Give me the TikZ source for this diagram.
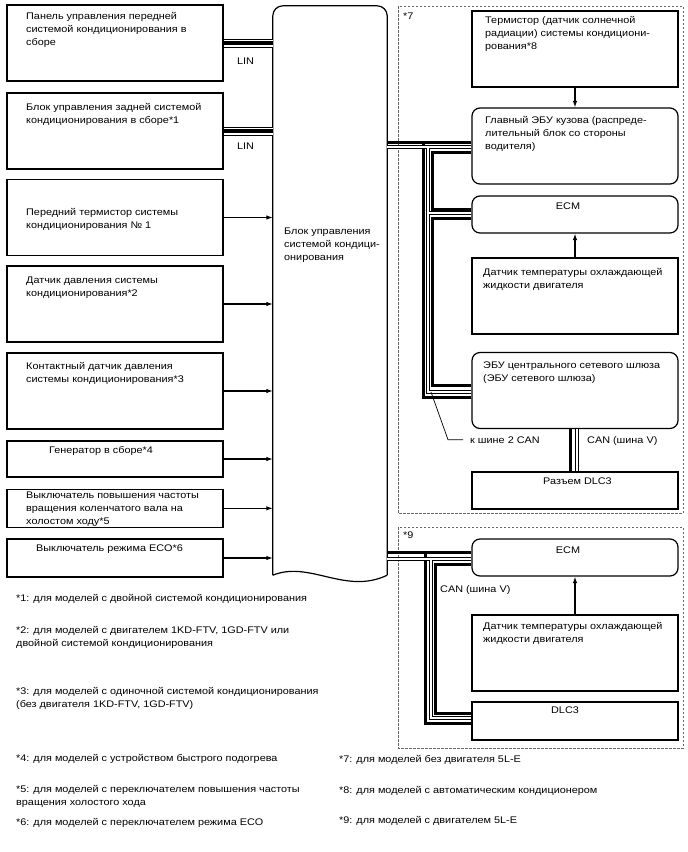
\documentclass[tikz,border=0pt]{standalone}
\usepackage{fontspec}
\setmainfont[FakeStretch=1.13]{Liberation Sans}
\usetikzlibrary{positioning,arrows.meta,calc}

\begin{document}
\begin{tikzpicture}[
    x=1pt,y=-1pt,font=\fontsize{9.6}{13.2}\selectfont,
    >={Latex[length=6.5pt,width=4.5pt]},
    lbox/.style={draw,line width=1.2pt,minimum width=216pt,inner sep=0pt},
    rbox/.style={draw,line width=1.2pt,minimum width=206pt,inner sep=0pt},
    ecu/.style={rbox,rounded corners=8pt},
    txt/.style={anchor=base west,align=left,inner sep=0pt},
    ctxt/.style={anchor=base,inner sep=0pt},
    sig/.style={->,line width=1.1pt},
    linbus/.style={draw=white,line width=7pt,
      preaction={draw=black,line width=9pt},
      postaction={draw=black,line width=3.2pt}},
    canhi/.style={draw=black,line width=3pt},
    canlo/.style={draw=black,line width=1.1pt,double=white,double distance=2.2pt},
    optgroup/.style={draw=black!60,line width=0.9pt,dash pattern=on 2.5pt off 1.5pt},
    lead/.style={draw=black,line width=0.7pt}
]
\fill[white] (0,0) rectangle (688,852);
\useasboundingbox (0,0) rectangle (688,852);

\node[lbox,minimum height=76pt] (acpanel) at (115,43) {};
\node[txt] (acpanel-t) at (26,45.4) {Панель управления передней\\системой кондиционирования в\\сборе};
\node[lbox,minimum height=76pt] (rearac) at (115,131) {};
\node[txt] (rearac-t) at (26,123.2) {Блок управления задней системой\\кондиционирования в сборе*1};
\node[lbox,minimum height=76pt] (frtherm) at (115,217.5) {};
\node[txt] (frtherm-t) at (26,228.2) {Передний термистор системы\\кондиционирования № 1};
\node[lbox,minimum height=76pt] (prsens) at (115,304) {};
\node[txt] (prsens-t) at (26,296.2) {Датчик давления системы\\кондиционирования*2};
\node[lbox,minimum height=76pt] (prswitch) at (115,391) {};
\node[txt] (prswitch-t) at (26,382.7) {Контактный датчик давления\\системы кондиционирования*3};
\node[lbox,minimum height=36pt] (altern) at (115,459) {};
\node[txt] (altern-t) at (49,453.5) {Генератор в сборе*4};
\node[lbox,minimum height=38pt] (idleup) at (115,508.3) {};
\node[txt] (idleup-t) at (26,524.9) {Выключатель повышения частоты\\вращения коленчатого вала на\\холостом ходу*5};
\node[lbox,minimum height=38pt] (ecosw) at (115,558) {};
\node[txt] (ecosw-t) at (36,551.5) {Выключатель режима ECO*6};

\node[minimum width=114pt,minimum height=569pt,inner sep=0pt] (acecu) at (330,290.5) {};
\draw[line width=1.2pt,rounded corners=10pt] (acecu.south west) -- (acecu.north west)
  -- (acecu.north east) -- (acecu.south east);
\draw[line width=1.2pt] (acecu.south west) .. controls +(37,-15) and +(-42,20) .. (acecu.south east);
\node[txt] (acecu-t) at (284,260.4) {Блок управления\\системой кондици-\\онирования};

\draw[optgroup] (398,6) rectangle (683,513);
\node[txt] (grp7) at (403,19) {*7};
\draw[optgroup] (398,527) rectangle (683,748);
\node[txt] (grp9) at (403,538) {*9};

\node[rbox,minimum height=76pt] (solar) at (575,49) {};
\node[txt] (solar-t) at (485,49.9) {Термистор (датчик солнечной\\радиации) системы кондициони-\\рования*8};
\node[ecu,minimum height=76pt] (bodyecu) at (575,146) {};
\node[txt] (bodyecu-t) at (485,149.4) {Главный ЭБУ кузова (распреде-\\лительный блок со стороны\\водителя)};
\node[ecu,minimum height=37pt] (ecma) at (575,214.5) {};
\node[ctxt] (ecma-t) at (568,209.5) {ECM};
\node[rbox,minimum height=76pt] (ecta) at (575,296) {};
\node[txt] (ecta-t) at (483,288.2) {Датчик температуры охлаждающей\\жидкости двигателя};
\node[ecu,minimum height=76pt] (gateway) at (575,390.5) {};
\node[txt] (gateway-t) at (483,381.7) {ЭБУ центрального сетевого шлюза\\(ЭБУ сетевого шлюза)};
\node[rbox,minimum height=37pt] (dlca) at (575,490.5) {};
\node[ctxt] (dlca-t) at (577.5,484) {Разъем DLC3};

\node[ecu,minimum height=37pt] (ecmb) at (575,557.5) {};
\node[ctxt] (ecmb-t) at (568,553.5) {ECM};
\node[rbox,minimum height=76pt] (ectb) at (575,653) {};
\node[txt] (ectb-t) at (483,642.7) {Датчик температуры охлаждающей\\жидкости двигателя};
\node[rbox,minimum height=38pt] (dlcb) at (575,721) {};
\node[ctxt] (dlcb-t) at (565,713.5) {DLC3};

\draw[linbus] (acpanel.east) -- (acpanel.east -| acecu.west);
\draw[linbus] (rearac.east) -- (rearac.east -| acecu.west);
\node[txt] (lin1) at (237,64) {LIN};
\node[txt] (lin2) at (237,149) {LIN};
\foreach \src in {frtherm,prsens,prswitch,altern,idleup,ecosw}
  \draw[sig] (\src.east) -- (\src.east -| acecu.west);

\draw[sig] (solar.south) -- (bodyecu.north);
\draw[sig] (ecta.north) -- (ecma.south);
\draw[sig] (ectb.north) -- (ecmb.south);

\draw[canhi] (acecu.east |- 0,142) -- (bodyecu.west |- 0,142)
  (acecu.east |- 0,142) -- ++(36,0) |- (gateway.west |- 0,397)
  (bodyecu.west |- 0,152) -- ++(-39,0) |- (ecma.west |- 0,209)
  (ecma.west |- 0,218) -- ++(-39,0) |- (gateway.west |- 0,385)
  ([xshift=-4.5pt]gateway.south) -- ([xshift=-4.5pt]dlca.north);
\draw[canlo] (acecu.east |- 0,147) -- (bodyecu.west |- 0,147)
  (acecu.east |- 0,147) ++(41,0) |- (gateway.west |- 0,392)
  (acecu.east |- 0,147) ++(41,0) |- (ecma.west |- 0,213)
  ([xshift=2pt]gateway.south) -- ([xshift=2pt]dlca.north);

\draw[canhi] (acecu.east |- 0,552) -- (ecmb.west |- 0,552)
  (acecu.east |- 0,552) -- ++(38,0) |- (dlcb.west |- 0,723)
  (ecmb.west |- 0,564) -- ++(-36,0) |- (dlcb.west |- 0,713);
\draw[canlo] (acecu.east |- 0,559) -- (ecmb.west |- 0,559)
  (acecu.east |- 0,559) ++(44,0) |- (dlcb.west |- 0,718);

\node[txt] (canva) at (587,443) {CAN (шина V)};
\node[txt] (canvb) at (440,592) {CAN (шина V)};
\node[txt] (tocan2-t) at (470,443) {к шине 2 CAN};
\coordinate (tocan2) at (431,392);
\draw[lead] (tocan2-t.west) ++(-7,0) -- ++(-15,0) -- (tocan2);

\node[txt] (fn1) at (16,601) {*1: для моделей с двойной системой кондиционирования};
\node[txt] (fn2) at (16,646.2) {*2: для моделей с двигателем 1KD-FTV, 1GD-FTV или\\двойной системой кондиционирования};
\node[txt] (fn3) at (16,707.2) {*3: для моделей с одиночной системой кондиционирования\\(без двигателя 1KD-FTV, 1GD-FTV)};
\node[txt] (fn4) at (16,761) {*4: для моделей с устройством быстрого подогрева};
\node[txt] (fn5) at (16,805.2) {*5: для моделей с переключателем повышения частоты\\вращения холостого хода};
\node[txt] (fn6) at (16,825) {*6: для моделей с переключателем режима ECO};
\node[txt] (fn7) at (339,762) {*7: для моделей без двигателя 5L-E};
\node[txt] (fn8) at (339,793.5) {*8: для моделей с автоматическим кондиционером};
\node[txt] (fn9) at (339,823.5) {*9: для моделей с двигателем 5L-E};
\end{tikzpicture}
\end{document}
